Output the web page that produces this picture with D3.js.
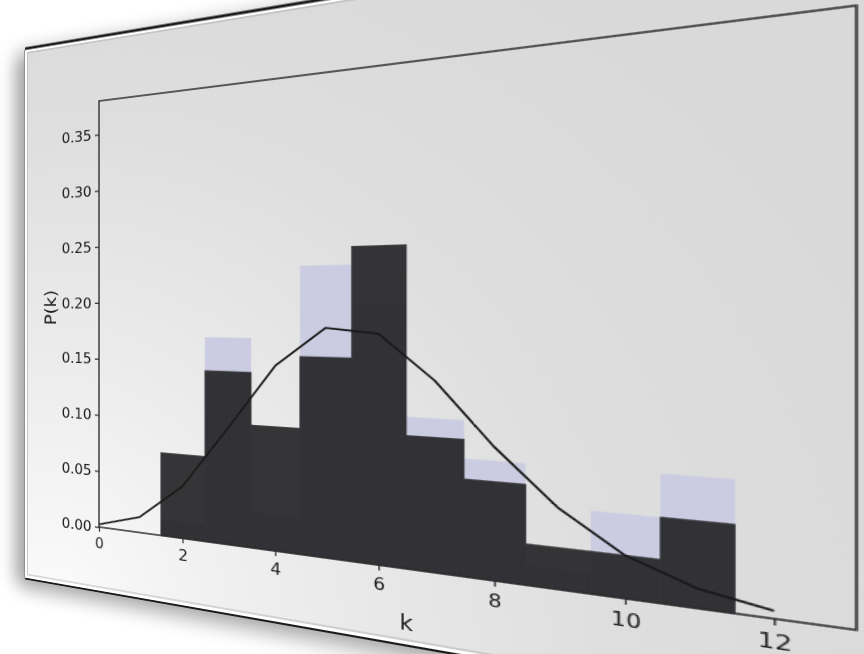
<!DOCTYPE html>
<html><head><meta charset="utf-8">
<script src="https://cdn.jsdelivr.net/npm/d3@7"></script>
<style>
html,body{margin:0;padding:0;background:#ffffff;overflow:hidden;width:864px;height:654px;}
#card{position:absolute;left:0;top:0;transform-origin:0 0;}
svg text{font-family:"DejaVu Sans",sans-serif;}
</style></head><body>
<div id="card"></div>
<script>
// ---- data ----
const binK   = [2, 3, 4, 5, 6, 7, 8, 9, 10, 11];
const darkP  = [0.071, 0.143, 0.100, 0.157, 0.243, 0.100, 0.071, 0.029, 0.029, 0.057];
const lavP   = [0.014, 0.171, 0.029, 0.229, 0.200, 0.114, 0.086, 0.014, 0.057, 0.086];
const curveK = [0, 1, 2, 3, 4, 5, 6, 7, 8, 9, 10, 11, 12];
const curveP = [0.0024, 0.0135, 0.0442, 0.096, 0.149, 0.180, 0.176, 0.142, 0.096, 0.057, 0.029, 0.013, 0.005];
const xTicks = [0, 2, 4, 6, 8, 10, 12];
const yTicks = [0.00, 0.05, 0.10, 0.15, 0.20, 0.25, 0.30, 0.35];
const xDomain = [0, 13];
const yDomain = [0, 0.38];
const xLabel = "k";
const yLabel = "P(k)";

// ---- flat figure layout ----
const M = 50, FW = 800, FH = 600;
const AW = 620, AH = 462;
const AX = M + 93, AY = M + 69;

const svg = d3.select('#card').append('svg')
  .attr('width', FW + 2 * M).attr('height', FH + 2 * M);
d3.select('#card').style('width', (FW + 2 * M) + 'px').style('height', (FH + 2 * M) + 'px');

const defs = svg.append('defs');
const sh = defs.append('filter').attr('id', 'sh').attr('x', '-20%').attr('y', '-20%').attr('width', '140%').attr('height', '140%');
sh.append('feGaussianBlur').attr('stdDeviation', 11);
const rg = defs.append('radialGradient').attr('id', 'bg').attr('gradientUnits', 'userSpaceOnUse')
  .attr('cx', M + 40).attr('cy', M + FH + 20).attr('r', 760);
rg.append('stop').attr('offset', '0').attr('stop-color', '#fbfbfb');
rg.append('stop').attr('offset', '0.35').attr('stop-color', '#ececec');
rg.append('stop').attr('offset', '0.7').attr('stop-color', '#dedede');
rg.append('stop').attr('offset', '1').attr('stop-color', '#d9d9d9');

// shadow
svg.append('rect').attr('x', M - 12).attr('y', M + 4).attr('width', FW).attr('height', FH + 6)
  .attr('fill', '#000').attr('opacity', 0.38).attr('filter', 'url(#sh)');
// figure paper
svg.append('rect').attr('x', M).attr('y', M).attr('width', FW).attr('height', FH).attr('fill', 'url(#bg)');
svg.append('rect').attr('x', M + 1.5).attr('y', M + 1.5).attr('width', FW - 3).attr('height', FH - 3)
  .attr('fill', 'none').attr('stroke', '#ffffff').attr('stroke-width', 3);
svg.append('rect').attr('x', M + 3.5).attr('y', M + 4).attr('width', FW - 7).attr('height', FH - 8)
  .attr('fill', 'none').attr('stroke', '#a8a8a8').attr('stroke-width', 0.8);
svg.append('line').attr('x1', M).attr('x2', M + FW).attr('y1', M - 1).attr('y2', M - 1)
  .attr('stroke', '#1a1a1a').attr('stroke-width', 3);
svg.append('line').attr('x1', M).attr('x2', M + FW).attr('y1', M + FH + 1).attr('y2', M + FH + 1)
  .attr('stroke', '#1a1a1a').attr('stroke-width', 2);
svg.append('line').attr('x1', M - 0.5).attr('x2', M - 0.5).attr('y1', M).attr('y2', M + FH)
  .attr('stroke', '#8a8a8a').attr('stroke-width', 1);

// ---- scales ----
const x = d3.scaleLinear().domain(xDomain).range([AX, AX + AW]);
const y = d3.scaleLinear().domain(yDomain).range([AY + AH, AY]);

const g = svg.append('g');
// lavender bars
g.append('g').selectAll('rect').data(binK.map((k, i) => ({k, p: lavP[i]}))).join('rect')
  .attr('x', d => x(d.k - 0.5)).attr('width', d => x(d.k + 0.5) - x(d.k - 0.5))
  .attr('y', d => y(d.p)).attr('height', d => y(0) - y(d.p))
  .attr('fill', '#cbcbe2');
// dark bars (group opacity, so adjacent bars have no seams)
g.append('g').attr('opacity', 0.92).selectAll('rect').data(binK.map((k, i) => ({k, p: darkP[i]}))).join('rect')
  .attr('x', d => x(d.k - 0.5)).attr('width', d => x(d.k + 0.5) - x(d.k - 0.5))
  .attr('y', d => y(d.p)).attr('height', d => y(0) - y(d.p))
  .attr('fill', '#262628').attr('stroke', '#262628').attr('stroke-width', 0.8);
// curve
g.append('path').datum(curveK.map((k, i) => [k, curveP[i]]))
  .attr('d', d3.line().x(d => x(d[0])).y(d => y(d[1])))
  .attr('fill', 'none').attr('stroke', '#1a1a1a').attr('stroke-width', 1.9).attr('stroke-linejoin', 'round');

// spines
g.append('rect').attr('x', AX).attr('y', AY).attr('width', AW).attr('height', AH)
  .attr('fill', 'none').attr('stroke', '#2a2a2a').attr('stroke-width', 1.5);

// axes
const xa = g.append('g').attr('transform', `translate(0,${AY + AH})`)
  .call(d3.axisBottom(x).tickValues(xTicks).tickSize(5).tickPadding(6).tickFormat(d3.format('d')));
const ya = g.append('g').attr('transform', `translate(${AX},0)`)
  .call(d3.axisLeft(y).tickValues(yTicks).tickSize(5).tickPadding(4).tickFormat(d3.format('.2f')));
[xa, ya].forEach(a => {
  a.select('.domain').remove();
  a.selectAll('line').attr('stroke', '#2a2a2a').attr('stroke-width', 1.3);
  a.selectAll('text').attr('fill', '#1e1e1e').style('font-size', '16.5px').style('font-family', '"DejaVu Sans",sans-serif');
});

g.append('text').attr('x', AX + AW / 2).attr('y', AY + AH + 56).attr('text-anchor', 'middle')
  .attr('fill', '#1e1e1e').style('font-size', '20px').text(xLabel);
g.append('text').attr('transform', `translate(${AX - 60},${AY + AH * 0.485}) rotate(-90)`)
  .attr('text-anchor', 'middle').attr('dy', '0.35em')
  .attr('fill', '#1e1e1e').style('font-size', '20px').text(yLabel);

// ---- perspective: map flat axes corners onto the photographed quad ----
function homography(src, dst) {
  const A = [], b = [];
  for (let i = 0; i < 4; i++) {
    const [X, Y] = src[i], [u, v] = dst[i];
    A.push([X, Y, 1, 0, 0, 0, -X * u, -Y * u]); b.push(u);
    A.push([0, 0, 0, X, Y, 1, -X * v, -Y * v]); b.push(v);
  }
  const n = 8;
  for (let c = 0; c < n; c++) {
    let p = c;
    for (let r = c + 1; r < n; r++) if (Math.abs(A[r][c]) > Math.abs(A[p][c])) p = r;
    [A[c], A[p]] = [A[p], A[c]]; [b[c], b[p]] = [b[p], b[c]];
    for (let r = 0; r < n; r++) {
      if (r === c) continue;
      const f = A[r][c] / A[c][c];
      for (let k = c; k < n; k++) A[r][k] -= f * A[c][k];
      b[r] -= f * b[c];
    }
  }
  return b.map((v, i) => v / A[i][i]);
}
const h = homography(
  [[AX, AY], [AX + AW, AY], [AX + AW, AY + AH], [AX, AY + AH]],
  [[99, 101], [856.5, 5.5], [856.5, 630], [99, 527]]
);
const m = [h[0], h[3], 0, h[6], h[1], h[4], 0, h[7], 0, 0, 1, 0, h[2], h[5], 0, 1];
d3.select('#card').style('transform', `matrix3d(${m.join(',')})`);
</script>
</body></html>
